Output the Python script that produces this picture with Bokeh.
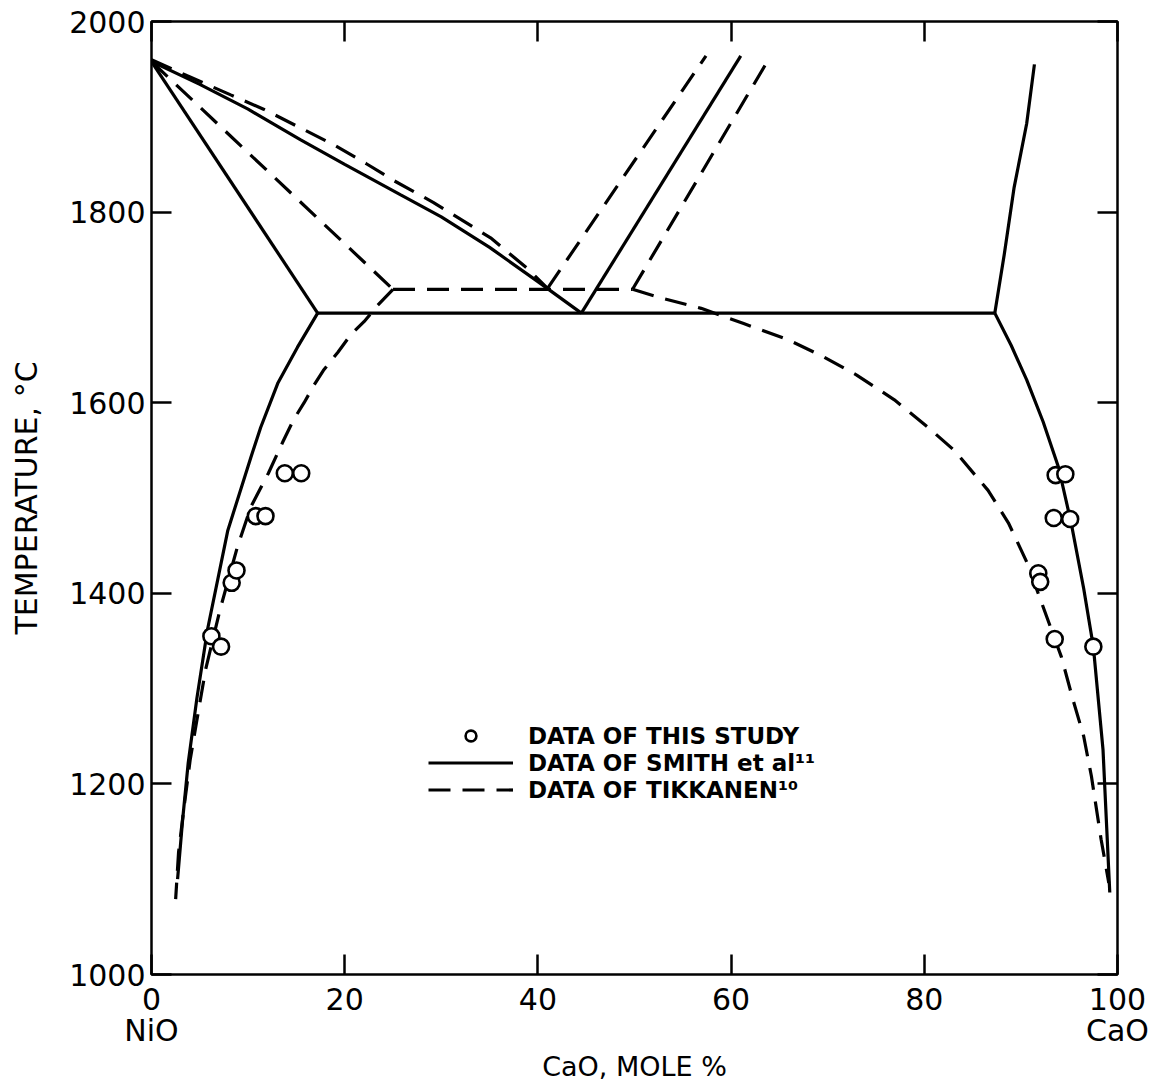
from bokeh.plotting import figure
from bokeh.models import (Range1d, LinearAxis, FixedTicker, Legend, LegendItem, ColumnDataSource,
                          CustomJSTickFormatter)
from bokeh.embed import file_html
from bokeh.resources import INLINE

# ---- axis ticks ----
x_ticks = [0, 20, 40, 60, 80, 100]
x_tick_labels = {0: "0\nNiO", 100: "100\nCaO"}
y_ticks = [1000, 1200, 1400, 1600, 1800, 2000]

# ---- SMITH et al (solid) ----
smith_liq_nio_x = [0, 17.2]
smith_liq_nio_y = [1958, 1694]
smith_liq_upper_x = [0, 5, 10, 15.4, 20, 25.8, 30, 35, 40, 44.5]
smith_liq_upper_y = [1958, 1934, 1908, 1876, 1850, 1818, 1795, 1763, 1727, 1694]
smith_eut_x = [17.2, 87.3]
smith_eut_y = [1694, 1694]
smith_liq_cao_x = [44.5, 61.0]
smith_liq_cao_y = [1694, 1964]
smith_right_up_x = [87.3, 88.3, 89.3, 90.6, 91.4]
smith_right_up_y = [1694, 1757, 1826, 1893, 1955]
smith_solv_left_x = [17.2, 15.1, 13.1, 11.3, 10.3, 7.9, 5.8, 4.7, 3.8, 3.2, 2.7]
smith_solv_left_y = [1694, 1658, 1621, 1574, 1543, 1466, 1362, 1290, 1222, 1160, 1100]
smith_solv_right_x = [87.3, 89.0, 90.6, 92.3, 93.9, 95.2, 96.5, 97.5, 98.5, 99.2]
smith_solv_right_y = [1694, 1660, 1624, 1580, 1532, 1474, 1405, 1344, 1236, 1086]

# ---- TIKKANEN (dashed) ----
tik_liq_nio_x = [0, 25.0]
tik_liq_nio_y = [1958, 1719]
tik_liq_upper_x = [0, 3.7, 8.2, 11.6, 15.1, 18.8, 22.2, 25.1, 29.2, 35.1, 38.9, 41.0]
tik_liq_upper_y = [1960, 1943, 1923, 1908, 1890, 1871, 1851, 1833, 1810, 1773, 1741, 1720]
tik_eut_x = [25.0, 49.8]
tik_eut_y = [1719, 1719]
tik_liq_cao_a_x = [41.0, 57.4]
tik_liq_cao_a_y = [1720, 1964]
tik_liq_cao_b_x = [49.8, 64.1]
tik_liq_cao_b_y = [1719, 1964]
tik_solv_left_x = [25.0, 23.4, 22.0, 20.6, 19.3, 17.8, 16.8, 15.8, 14.7, 13.6, 12.1, 10.3, 8.9,
                   7.1, 5.6, 4.7, 4.0, 3.3, 2.8, 2.5]
tik_solv_left_y = [1719, 1702, 1685, 1671, 1653, 1634, 1618, 1600, 1582, 1559, 1526, 1491, 1449,
                   1383, 1320, 1267, 1225, 1170, 1128, 1079]
tik_solv_right_x = [49.8, 52.7, 56.9, 61.3, 65.9, 69.6, 73.0, 76.9, 80.4, 83.1, 86.6, 88.7, 90.6,
                    92.4, 94.2, 95.4, 96.5, 97.3, 98.3, 99.1]
tik_solv_right_y = [1719, 1710, 1699, 1683, 1666, 1648, 1629, 1603, 1574, 1550, 1508, 1474, 1433,
                    1383, 1333, 1288, 1250, 1208, 1142, 1096]

# ---- data of this study (circles) ----
study_x = [6.2, 7.2, 8.3, 8.8, 10.8, 11.8, 13.8, 15.5, 91.8, 92.0, 93.4, 93.5, 93.6, 94.6, 95.1, 97.5]
study_y = [1355, 1344, 1411, 1424, 1481, 1481, 1526, 1526, 1421, 1412, 1479, 1352, 1524, 1525, 1478, 1344]

legend_labels = ["DATA OF THIS STUDY", "DATA OF SMITH et al\u00b9\u00b9", "DATA OF TIKKANEN\u00b9\u2070"]

FONT = "DejaVu Sans"

p = figure(width=1150, height=1085, x_range=Range1d(0, 100), y_range=Range1d(1000, 2000),
           output_backend="svg", toolbar_location=None,
           min_border_left=151, min_border_right=33, min_border_top=21, min_border_bottom=110)
p.grid.visible = False
p.outline_line_color = "black"
p.outline_line_width = 2.5
p.background_fill_color = "white"
p.border_fill_color = "white"

def style_axis(ax, ticks, show_labels):
    ax.ticker = FixedTicker(ticks=ticks)
    ax.major_tick_in = 20
    ax.major_tick_out = 0
    ax.minor_tick_in = 0
    ax.minor_tick_out = 0
    ax.major_tick_line_width = 2.5
    ax.major_tick_line_color = "black"
    ax.axis_line_color = None
    ax.major_label_text_font = FONT
    ax.major_label_text_color = "black"
    ax.major_label_text_font_size = "30px"
    if not show_labels:
        ax.formatter = CustomJSTickFormatter(code="return ''")
        ax.major_label_standoff = 0

xa = p.xaxis[0]
style_axis(xa, x_ticks, True)
xa.major_label_overrides = x_tick_labels
xa.major_label_text_line_height = 0.9
xa.major_label_standoff = 7
xa.axis_label = "CaO, MOLE %"
xa.axis_label_text_font = FONT
xa.axis_label_text_font_style = "normal"
xa.axis_label_text_font_size = "27px"
xa.axis_label_text_color = "black"
xa.axis_label_standoff = 0

ya = p.yaxis[0]
style_axis(ya, y_ticks, True)
ya.major_label_standoff = 6
ya.axis_label = "TEMPERATURE, \u00b0C"
ya.axis_label_text_font = FONT
ya.axis_label_text_font_style = "normal"
ya.axis_label_text_font_size = "30px"
ya.axis_label_text_color = "black"
ya.axis_label_standoff = 22

top = LinearAxis()
style_axis(top, x_ticks, False)
p.add_layout(top, "above")
right = LinearAxis()
style_axis(right, y_ticks, False)
p.add_layout(right, "right")

solid_src = ColumnDataSource(dict(
    xs=[smith_liq_nio_x, smith_liq_upper_x, smith_eut_x, smith_liq_cao_x, smith_right_up_x,
        smith_solv_left_x, smith_solv_right_x],
    ys=[smith_liq_nio_y, smith_liq_upper_y, smith_eut_y, smith_liq_cao_y, smith_right_up_y,
        smith_solv_left_y, smith_solv_right_y]))
dash_src = ColumnDataSource(dict(
    xs=[tik_liq_nio_x, tik_liq_upper_x, tik_eut_x, tik_liq_cao_a_x, tik_liq_cao_b_x,
        tik_solv_left_x, tik_solv_right_x],
    ys=[tik_liq_nio_y, tik_liq_upper_y, tik_eut_y, tik_liq_cao_a_y, tik_liq_cao_b_y,
        tik_solv_left_y, tik_solv_right_y]))

r_solid = p.multi_line("xs", "ys", source=solid_src, line_color="black", line_width=3.2)
r_dash = p.multi_line("xs", "ys", source=dash_src, line_color="black", line_width=3.2,
                      line_dash="22 12")
r_pts = p.scatter(study_x, study_y, marker="circle", size=16, fill_color="white",
                  line_color="black", line_width=2.6)

legend = Legend(items=[LegendItem(label=legend_labels[0], renderers=[r_pts]),
                       LegendItem(label=legend_labels[1], renderers=[r_solid]),
                       LegendItem(label=legend_labels[2], renderers=[r_dash])],
                location=(277, 171), orientation="vertical")
legend.glyph_width = 85
legend.glyph_height = 27
legend.label_height = 27
legend.spacing = 0
legend.padding = 0
legend.margin = 0
legend.label_standoff = 15
legend.label_text_font = FONT
legend.label_text_font_style = "bold"
legend.label_text_font_size = "23px"
legend.label_text_color = "black"
legend.border_line_alpha = 0
legend.background_fill_alpha = 0
p.add_layout(legend, "center")

open("out.html", "w").write(file_html(p, INLINE))
